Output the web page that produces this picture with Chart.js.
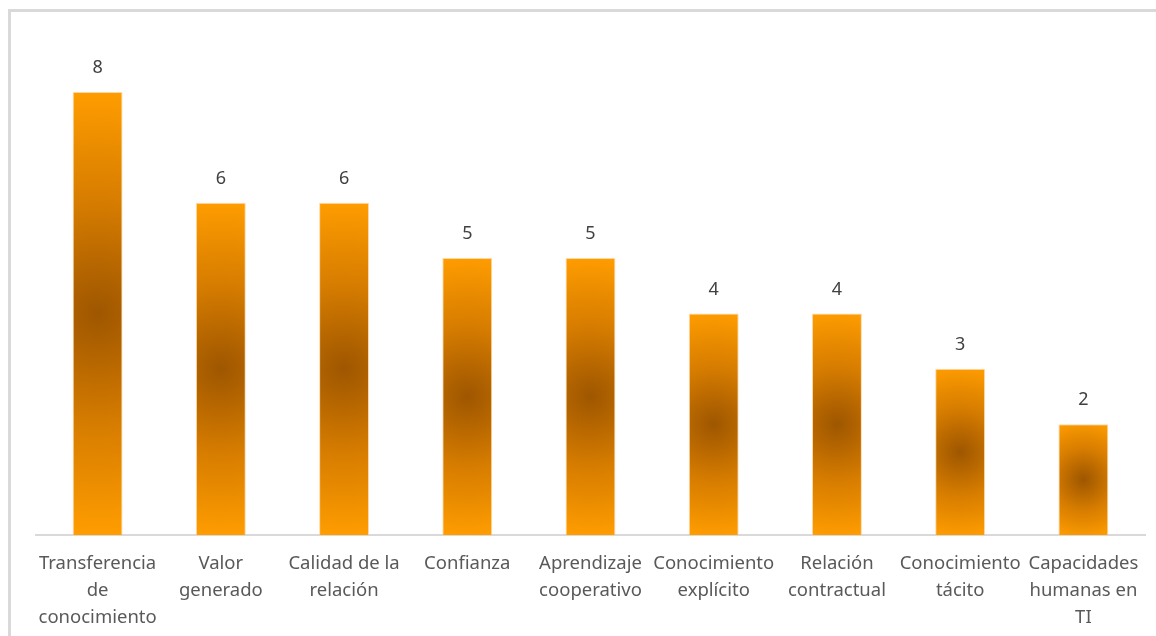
<!DOCTYPE html>
<html>
<head>
<meta charset="utf-8">
<script src="https://cdn.jsdelivr.net/npm/chart.js@4.4.1/dist/chart.umd.min.js"></script>
<style>
  html, body { margin: 0; padding: 0; background: #fff; }
  #frame {
    position: absolute; left: 8px; top: 9px; width: 1200px; height: 700px;
    border-left: 3px solid #d9d9d9; border-top: 3px solid #d9d9d9;
  }
  #wrap { position: absolute; left: 0; top: 0; width: 1156px; height: 636px; }
</style>
</head>
<body>
<div id="frame"></div>
<div id="wrap"><canvas id="chart" width="1156" height="636"></canvas></div>
<script>
const categories = [
  ["Transferencia", "de", "conocimiento"],
  ["Valor", "generado"],
  ["Calidad de la", "relación"],
  ["Confianza"],
  ["Aprendizaje", "cooperativo"],
  ["Conocimiento", "explícito"],
  ["Relación", "contractual"],
  ["Conocimiento", "tácito"],
  ["Capacidades", "humanas en", "TI"],
];
const counts = [8, 6, 6, 5, 5, 4, 4, 3, 2];

const FONT = "'Noto Sans', 'Open Sans', sans-serif";

// radial fill per bar: dark brown in the middle, orange towards the ends
function barFill(context) {
  const chart = context.chart;
  const xs = chart.scales.x, ys = chart.scales.y;
  if (!xs || !ys || !chart.chartArea) return "#f39200";
  const i = context.dataIndex;
  const v = context.raw;
  const cx = xs.getPixelForValue(i);
  const top = ys.getPixelForValue(v);
  const base = ys.getPixelForValue(0);
  const cy = (top + base) / 2;
  const halfW = 25, halfH = (base - top) / 2;
  const r = Math.sqrt(halfW * halfW + halfH * halfH);
  const g = chart.ctx.createRadialGradient(cx, cy, 0, cx, cy, r);
  g.addColorStop(0, "#9e5600");
  g.addColorStop(0.5, "#d67c00");
  g.addColorStop(1, "#ff9d00");
  return g;
}

// value labels above each bar
const valueLabels = {
  id: "valueLabels",
  afterDatasetsDraw(chart) {
    const ctx = chart.ctx;
    const meta = chart.getDatasetMeta(0);
    ctx.save();
    ctx.font = "18px " + FONT;
    ctx.fillStyle = "#404040";
    ctx.textAlign = "center";
    ctx.textBaseline = "middle";
    meta.data.forEach((bar, i) => {
      ctx.fillText(String(counts[i]), bar.x, bar.y - 24);
    });
    ctx.restore();
  },
};

new Chart(document.getElementById("chart"), {
  type: "bar",
  data: {
    labels: categories,
    datasets: [{
      data: counts,
      backgroundColor: barFill,
      borderColor: "rgba(255, 200, 130, 0.7)",
      borderWidth: 1,
      barPercentage: 0.405,
      categoryPercentage: 1,
    }],
  },
  options: {
    responsive: false,
    animation: false,
    layout: { padding: { left: 36, right: 11, top: 92, bottom: -2 } },
    plugins: { legend: { display: false }, tooltip: { enabled: false } },
    scales: {
      x: {
        grid: { display: false },
        border: { display: true, color: "#d9d9d9", width: 2 },
        ticks: {
          maxRotation: 0,
          autoSkip: false,
          padding: 7,
          color: "#595959",
          font: { family: FONT, size: 18.5, lineHeight: 1.46 },
        },
      },
      y: {
        display: false,
        min: 0,
        max: 8,
      },
    },
  },
  plugins: [valueLabels],
});
</script>
</body>
</html>
